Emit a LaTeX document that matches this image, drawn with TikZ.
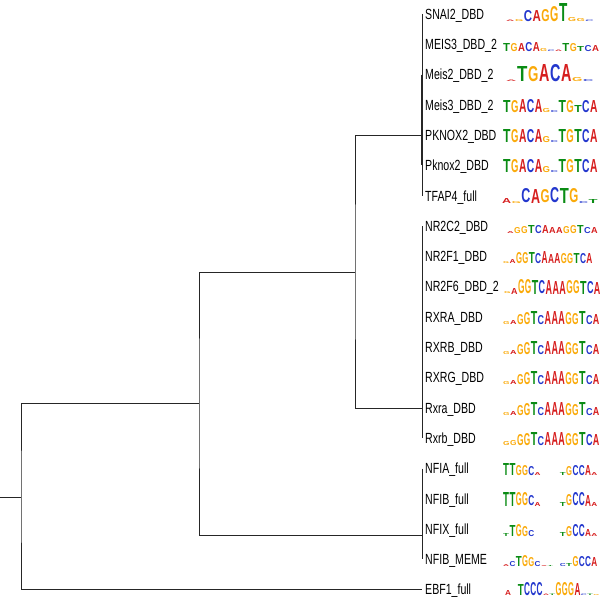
\documentclass[tikz,border=0pt]{standalone}
\usepackage{fontspec}
\setmainfont{Liberation Sans}[FakeStretch=0.72]
\newfontfamily\logofont{Liberation Sans}
\usepackage{graphicx}
\usepackage{tikz}
\usetikzlibrary{positioning}
\definecolor{lgA}{RGB}{214,30,30}
\definecolor{lgC}{RGB}{35,55,205}
\definecolor{lgG}{RGB}{250,170,10}
\definecolor{lgT}{RGB}{10,140,20}
\tikzset{tree/.style={line width=0.9pt,black!85}}
\tikzset{leaf/.style={anchor=west,inner xsep=3pt,inner ysep=0pt,text height=10.4pt,text depth=0pt,font=\fontsize{14.7}{16}\selectfont}}
\tikzset{logo/.style={anchor=south west,inner sep=0pt,font=\logofont\bfseries}}
% one sequence logo: start x, baseline y, column width, letter/height list
\newcommand\seqlogo[4]{%
  \pgfmathsetmacro\lw{#3*0.94}%
  \foreach \l/\h [count=\k from 0] in {#4}{%
    \ifdim\h pt>0pt
      \node[logo,text=lg\l] at ({#1+\k*#3},#2) {\resizebox{\lw pt}{\h pt}{\l}};
    \fi}}

\begin{document}
\begin{tikzpicture}[x=1pt,y=-1pt]
	\useasboundingbox (0,0) rectangle (600,599);

	% leaves
	\node[leaf] (snai2) at (422,14) {SNAI2\_DBD};
	\node[leaf] (meis3a) at (422,44.3) {MEIS3\_DBD\_2};
	\node[leaf] (meis2) at (422,74.6) {Meis2\_DBD\_2};
	\node[leaf] (meis3b) at (422,104.9) {Meis3\_DBD\_2};
	\node[leaf] (pknox2a) at (422,135.2) {PKNOX2\_DBD};
	\node[leaf] (pknox2b) at (422,165.5) {Pknox2\_DBD};
	\node[leaf] (tfap4) at (422,195.8) {TFAP4\_full};
	\node[leaf] (nr2c2) at (422,226.1) {NR2C2\_DBD};
	\node[leaf] (nr2f1) at (422,256.4) {NR2F1\_DBD};
	\node[leaf] (nr2f6) at (422,286.7) {NR2F6\_DBD\_2};
	\node[leaf] (rxraA) at (422,317) {RXRA\_DBD};
	\node[leaf] (rxrbA) at (422,347.3) {RXRB\_DBD};
	\node[leaf] (rxrgA) at (422,377.6) {RXRG\_DBD};
	\node[leaf] (rxra) at (422,407.9) {Rxra\_DBD};
	\node[leaf] (rxrb) at (422,438.2) {Rxrb\_DBD};
	\node[leaf] (nfia) at (422,468.5) {NFIA\_full};
	\node[leaf] (nfib) at (422,498.8) {NFIB\_full};
	\node[leaf] (nfix) at (422,529.1) {NFIX\_full};
	\node[leaf] (nfibm) at (422,559.4) {NFIB\_MEME};
	\node[leaf] (ebf1) at (422,589.7) {EBF1\_full};

	% branch points
	\coordinate (kTop) at (422,135);
	\coordinate (kNR) at (422,408);
	\coordinate (kNFI) at (422,535);
	\coordinate (nA) at (355,272);
	\coordinate (nB) at (199,403);
	\coordinate (nRoot) at (21,497);
	\coordinate (stub) at (0,497);

	\draw[tree] (snai2.west) -- (tfap4.west);
	\draw[tree,line width=1.6pt] ([xshift=-0.4pt]meis2.west) -- ([xshift=-0.4pt]pknox2b.west);
	\draw[tree] (nr2c2.west) -- (rxrb.west);
	\draw[tree] (nfia.west) -- (nfibm.west);
	\draw[tree] (kTop) -| (nA) |- (kNR);
	\draw[tree] (nA) -| (nB) |- (kNFI);
	\draw[tree] (nB) -| (nRoot) |- (ebf1.west);
	\draw[tree] (nRoot) -- (stub);

	% logos
	\seqlogo{506}{21.5}{8.8}{A/1.5,G/2,C/11,A/11,G/12,G/15,T/18,G/4,G/3,C/1.5}
	\seqlogo{503}{51.8}{7.4}{T/8,G/8,A/8,C/9,A/9,G/3,C/1.5,A/1.5,T/8,G/8,T/5,C/6,A/6}
	\seqlogo{506}{82.1}{11}{A/1.5,T/15,G/15,A/17,C/17,A/17,G/4,C/2}
	\seqlogo{503}{112.4}{7.9}{T/12,G/12,A/13,C/13,A/13,G/4,C/2,T/12,G/12,T/7,C/12,A/12}
	\seqlogo{503}{142.7}{7.9}{T/13,G/13,A/13,C/13,A/13,G/6,C/2,T/13,G/13,T/13,C/13,A/13}
	\seqlogo{503}{173}{7.9}{T/13,G/13,A/13,C/13,A/13,G/6,C/2,T/13,G/13,T/13,C/13,A/13}
	\seqlogo{502}{203.3}{9.6}{A/5,G/2,C/14,A/14,G/13,C/15,T/15,G/14,C/2,T/4}
	\seqlogo{507}{233.6}{7}{A/2,G/6,G/7,T/8,C/8,A/8,A/6,A/6,G/7,G/8,T/8,C/6,A/6}
	\seqlogo{503}{263.9}{6.4}{G/2,A/4,G/11,G/11,T/11,C/10,A/12,A/9,A/10,G/10,G/10,T/10,C/10,A/10}
	\seqlogo{504}{294.2}{6.9}{G/2,A/6,G/14,G/14,T/14,C/13,A/14,A/13,A/13,G/13,G/13,T/13,C/12,A/12}
	\seqlogo{503}{324.5}{6.9}{G/3,A/4,G/10,G/12,T/13,C/9,A/13,A/13,A/13,G/12,G/11,T/13,C/9,A/10}
	\seqlogo{503}{354.8}{6.9}{G/3,A/4,G/10,G/12,T/13,C/9,A/13,A/13,A/13,G/12,G/11,T/13,C/9,A/10}
	\seqlogo{503}{385.1}{6.9}{G/3,A/4,G/10,G/12,T/13,C/9,A/13,A/13,A/13,G/12,G/11,T/13,C/9,A/10}
	\seqlogo{503}{415.4}{6.9}{G/3,A/4,G/10,G/12,T/13,C/8,A/13,A/13,A/13,G/12,G/11,T/13,C/7,A/8}
	\seqlogo{503}{445.7}{6.9}{G/4,G/5,G/11,G/12,T/13,C/9,A/13,A/13,A/13,G/12,G/12,T/13,C/11,A/11}
	\seqlogo{503}{476}{6.3}{T/12,T/12,G/10,G/10,C/9,A/3,A/0,A/0,A/0,T/3,G/9,C/10,C/10,A/10,A/3}
	\seqlogo{503}{506.3}{6.3}{T/14,T/14,G/13,G/13,C/10,A/4,A/0,A/0,A/0,T/4,G/11,C/13,C/13,A/11,A/4}
	\seqlogo{503}{536.6}{6.3}{T/3,T/11,G/12,G/10,C/6,A/0,A/0,A/0,A/0,T/4,G/10,C/12,C/12,A/7,A/3}
	\seqlogo{503}{566.9}{6.3}{A/2,C/5,T/10,G/11,G/9,C/5,A/1,T/1,A/0,C/3,T/3,G/10,C/10,C/10,A/9}
	\seqlogo{505}{595.8}{6.3}{A/5,A/0,T/11,C/13,C/13,C/13,A/1.5,T/1.5,G/13,G/13,G/13,A/12,C/1.5,T/1.5,G/1}
\end{tikzpicture}
\end{document}
